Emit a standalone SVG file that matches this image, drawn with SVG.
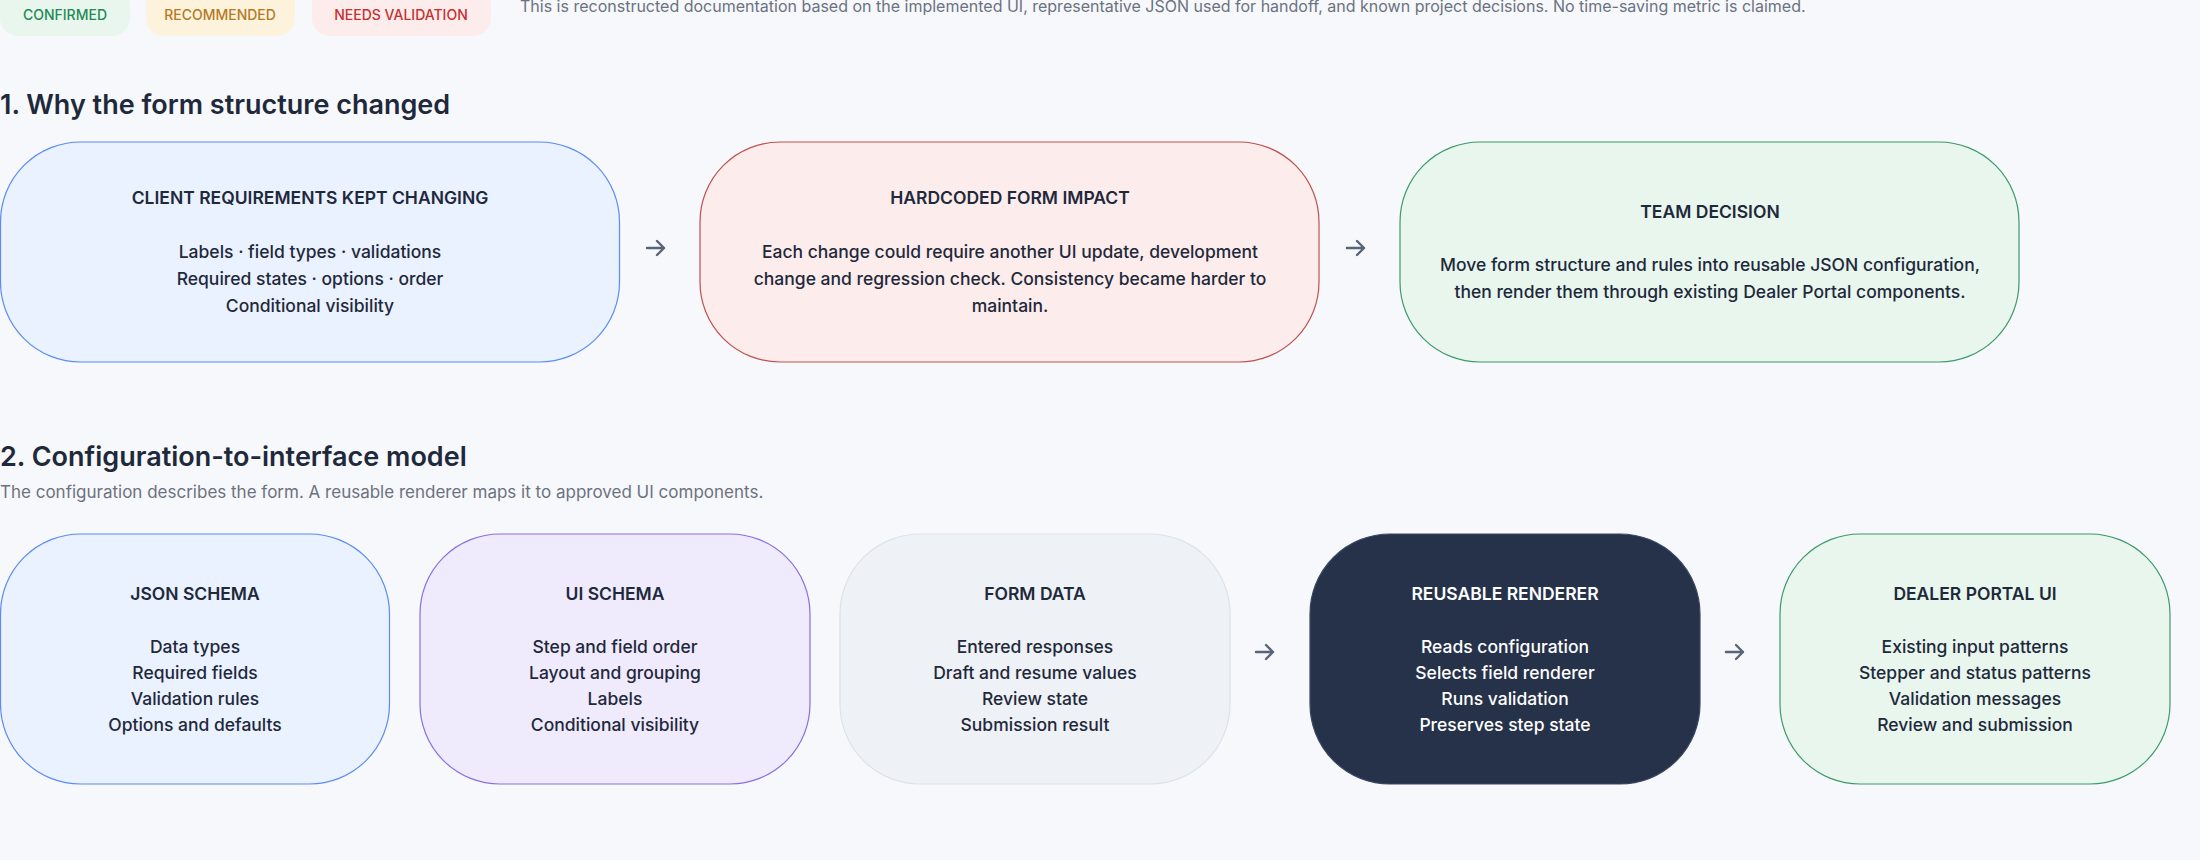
<svg xmlns="http://www.w3.org/2000/svg" width="2200" height="860" viewBox="0 0 2200 860">
<style>
text{font-family:Inter,"Noto Sans","Liberation Sans",sans-serif;fill:#1e293b}
.pill{font-size:14px;font-weight:500;text-anchor:middle}
.h{font-size:27px;font-weight:600}
.sub{font-size:16px;fill:#6b7280}
.sub2{font-size:17px;fill:#6b7280}
.t{font-size:17.5px;font-weight:600;text-anchor:middle}
.b{font-size:17.5px;font-weight:500;text-anchor:middle}
.w{fill:#ffffff}
.arr{fill:none;stroke:#5a6478;stroke-width:2.4;stroke-linecap:round;stroke-linejoin:round}
</style>
<rect width="2200" height="860" fill="#f7f8fc"/>
<g id="badges">
<rect x="0" y="-14" width="130" height="50" rx="18" fill="#e8f6ee"/>
<text class="pill" x="65" y="20" style="fill:#1f8a55">CONFIRMED</text>
<rect x="146" y="-14" width="149" height="50" rx="18" fill="#fdf3dc"/>
<text class="pill" x="220" y="20" style="fill:#b7791f">RECOMMENDED</text>
<rect x="312" y="-14" width="179" height="50" rx="18" fill="#fdecec"/>
<text class="pill" x="401" y="20" style="fill:#c53030">NEEDS VALIDATION</text>
</g>
<text class="sub" x="520" y="12">This is reconstructed documentation based on the implemented UI, representative JSON used for handoff, and known project decisions. No time-saving metric is claimed.</text>
<text class="h" x="0" y="114">1. Why the form structure changed</text>
<g id="n1">
<rect x="0.5" y="142" width="619" height="220" rx="80" fill="#eaf1ff" stroke="#5b8cf5" stroke-width="1.2"/>
<text class="t" x="310" y="204">CLIENT REQUIREMENTS KEPT CHANGING</text>
<text class="b" x="310" y="258">Labels · field types · validations</text>
<text class="b" x="310" y="285">Required states · options · order</text>
<text class="b" x="310" y="312">Conditional visibility</text>
</g>
<g id="n2">
<rect x="700" y="142" width="619" height="220" rx="80" fill="#fdecec" stroke="#c0504d" stroke-width="1.2"/>
<text class="t" x="1010" y="204">HARDCODED FORM IMPACT</text>
<text class="b" x="1010" y="258">Each change could require another UI update, development</text>
<text class="b" x="1010" y="285">change and regression check. Consistency became harder to</text>
<text class="b" x="1010" y="312">maintain.</text>
</g>
<g id="n3">
<rect x="1400" y="142" width="619" height="220" rx="80" fill="#e8f6ee" stroke="#3c9a6b" stroke-width="1.2"/>
<text class="t" x="1710" y="218">TEAM DECISION</text>
<text class="b" x="1710" y="271">Move form structure and rules into reusable JSON configuration,</text>
<text class="b" x="1710" y="298">then render them through existing Dealer Portal components.</text>
</g>
<text class="h" x="0" y="466">2. Configuration-to-interface model</text>
<text class="sub2" x="0" y="498">The configuration describes the form. A reusable renderer maps it to approved UI components.</text>
<g id="m1">
<rect x="0.5" y="534" width="389" height="250" rx="80" fill="#eaf1ff" stroke="#5b8cf5" stroke-width="1.2"/>
<text class="t" x="195" y="600">JSON SCHEMA</text>
<text class="b" x="195" y="653">Data types</text>
<text class="b" x="195" y="679">Required fields</text>
<text class="b" x="195" y="705">Validation rules</text>
<text class="b" x="195" y="731">Options and defaults</text>
</g>
<g id="m2">
<rect x="420" y="534" width="390" height="250" rx="80" fill="#efebfd" stroke="#8b6fe0" stroke-width="1.2"/>
<text class="t" x="615" y="600">UI SCHEMA</text>
<text class="b" x="615" y="653">Step and field order</text>
<text class="b" x="615" y="679">Layout and grouping</text>
<text class="b" x="615" y="705">Labels</text>
<text class="b" x="615" y="731">Conditional visibility</text>
</g>
<g id="m3">
<rect x="840" y="534" width="390" height="250" rx="80" fill="#eef1f6" stroke="#dde2ea" stroke-width="1.2"/>
<text class="t" x="1035" y="600">FORM DATA</text>
<text class="b" x="1035" y="653">Entered responses</text>
<text class="b" x="1035" y="679">Draft and resume values</text>
<text class="b" x="1035" y="705">Review state</text>
<text class="b" x="1035" y="731">Submission result</text>
</g>
<g id="m4">
<rect x="1310" y="534" width="390" height="250" rx="80" fill="#26324a" stroke="#3a4660" stroke-width="1.2"/>
<text class="t w" x="1505" y="600">REUSABLE RENDERER</text>
<text class="b w" x="1505" y="653">Reads configuration</text>
<text class="b w" x="1505" y="679">Selects field renderer</text>
<text class="b w" x="1505" y="705">Runs validation</text>
<text class="b w" x="1505" y="731">Preserves step state</text>
</g>
<g id="m5">
<rect x="1780" y="534" width="390" height="250" rx="80" fill="#e8f6ee" stroke="#3c9a6b" stroke-width="1.2"/>
<text class="t" x="1975" y="600">DEALER PORTAL UI</text>
<text class="b" x="1975" y="653">Existing input patterns</text>
<text class="b" x="1975" y="679">Stepper and status patterns</text>
<text class="b" x="1975" y="705">Validation messages</text>
<text class="b" x="1975" y="731">Review and submission</text>
</g>
<g id="connectors">
<path class="arr" d="M647 248H664M657 241L664 248L657 255"/>
<path class="arr" d="M1347 248H1364M1357 241L1364 248L1357 255"/>
<path class="arr" d="M1256 652H1273M1266 645L1273 652L1266 659"/>
<path class="arr" d="M1726 652H1743M1736 645L1743 652L1736 659"/>
</g>
</svg>
